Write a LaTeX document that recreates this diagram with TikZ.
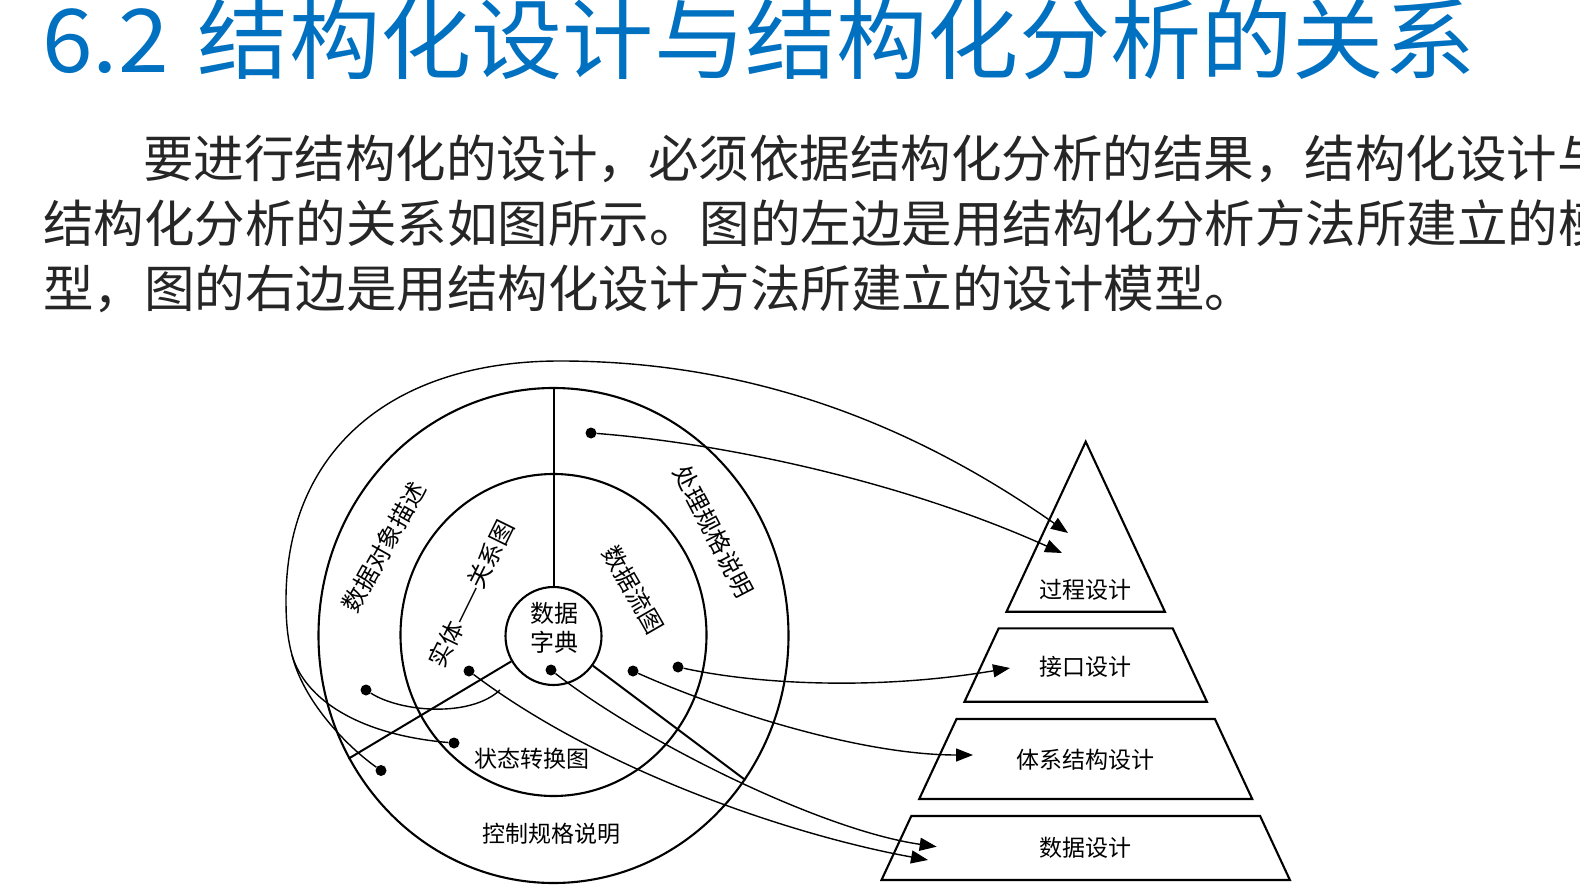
\documentclass[tikz,border=0pt]{standalone}
\usepackage{fontspec}
\newfontfamily\cjk{Noto Sans CJK SC}
\newfontfamily\cjktitle[FakeStretch=1.037]{Noto Sans CJK SC}
\usetikzlibrary{arrows.meta,shapes.geometric}
\definecolor{titleblue}{RGB}{0,112,192}
\definecolor{bodygray}{RGB}{38,38,38}

\begin{document}
\begin{tikzpicture}[x=1pt,y=-1pt,
  ring/.style={draw, ellipse, line width=2.1pt, inner sep=0pt},
  spoke/.style={line width=2pt},
  conn/.style={line width=1.4pt},
  tip/.style={conn, -{Triangle[length=17pt,width=13pt]}},
  dot/.style={circle, fill, inner sep=0pt, minimum size=11pt},
  lbl/.style={font=\cjk\fontsize{23}{23}\selectfont, inner sep=0pt},
  ringlbl/.style={font=\cjk\fontsize{24}{24}\selectfont, inner sep=0pt},
  level/.style={line width=2.1pt, line join=miter},
  para/.style={font=\cjk\fontsize{50.5}{50.5}\selectfont, text=bodygray, anchor=base west, inner sep=0pt}
]
\useasboundingbox (0,0) rectangle (1580,893);
\clip (0,0) rectangle (1580,893);
\fill[white] (0,0) rectangle (1580,893);

% heading and paragraph
\node[anchor=base west, inner sep=0pt, text=titleblue,
      font=\cjktitle\fontsize{88}{88}\selectfont] (title) at (42,73)
      {6.2\hspace{29pt}结构化设计与结构化分析的关系};
\node[para] (l1) at (143,178) {要进行结构化的设计，必须依据结构化分析的结果，结构化设计与};
\node[para] (l2) at (43,243) {结构化分析的关系如图所示。图的左边是用结构化分析方法所建立的模};
\node[para] (l3) at (43,308) {型，图的右边是用结构化设计方法所建立的设计模型。};

% analysis model: three rings and three spokes
\node[ring, minimum width=470pt, minimum height=495pt] (outer) at (553.5,635.5) {};
\node[ring, minimum width=306pt, minimum height=322pt] (middle) at (553.5,635) {};
\node[ring, minimum width=96pt, minimum height=98pt] (inner) at (553.5,636) {};
\draw[spoke] (inner.north) -- (outer.north);
\draw[spoke] (inner.211.9) -- (outer.211.9);
\draw[spoke] (inner.323.8) -- (outer.323.8);

\node[inner sep=0pt, align=center, font=\cjk\fontsize{24}{29}\selectfont] (dd) at (554,627.5) {数据\\字典};
\node[ringlbl, rotate=60.6] (objdesc) at (384,547) {数据对象描述};
\node[ringlbl, rotate=63.8] (erd) at (471,594) {实体——关系图};
\node[ringlbl, rotate=-60] (dfd) at (633,590) {数据流图};
\node[ringlbl, rotate=-62.4] (pspec) at (713.5,531.6) {处理规格说明};
\node[lbl] (std) at (532,759) {状态转换图};
\node[lbl] (cspec) at (551,834) {控制规格说明};

% design model: pyramid
\draw[level] (1085.7,441.7) -- (1164.9,611.7) -- (1006.5,611.7) -- cycle;
\draw[level] (998.7,628.3) -- (1172.7,628.3) -- (1206.9,701.7) -- (964.5,701.7) -- cycle;
\draw[level] (956.5,719) -- (1214.9,719) -- (1252.2,799) -- (919.2,799) -- cycle;
\draw[level] (911.3,816) -- (1260.1,816) -- (1289.9,880) -- (881.5,880) -- cycle;
\node[lbl] (proc) at (1085,590) {过程设计};
\node[lbl] (intf) at (1085,667) {接口设计};
\node[lbl] (arch) at (1085.7,760) {体系结构设计};
\node[lbl] (datad) at (1085,848) {数据设计};

% arrow targets and joints
\coordinate (t1) at (1068,533);
\coordinate (t2) at (1062,553);
\coordinate (t3) at (1010,668);
\coordinate (t4) at (973,755);
\coordinate (t5) at (936.7,846.7);
\coordinate (t6) at (928,860);
\coordinate (J) at (292,655);
\coordinate (E) at (500,690);

% source dots
\node[dot] (dP) at (591,433) {};
\node[dot] (dF) at (633,671) {};
\node[dot] (dG) at (678,667) {};
\node[dot] (dH) at (551,670) {};
\node[dot] (dI) at (469,671) {};
\node[dot] (dD) at (366,690) {};
\node[dot] (dA) at (454,743) {};
\node[dot] (dB) at (381,770.5) {};

% mappings
\draw[tip] (dP) .. controls (720,443) and (900,480) .. (t2);
\draw[tip] (dB) .. controls (345,745) and (303,700) .. (J)
      .. controls (288,640) and (286,625) .. (286,600)
      .. controls (286,452) and (390,361) .. (560,361)
      .. controls (760,361) and (921,430) .. (t1);
\draw[conn] (dA) .. controls (360,735) and (305,700) .. (J);
\draw[conn] (dD) .. controls (400,712) and (470,718) .. (E);
\draw[tip] (dF) .. controls (720,710) and (860,755) .. (t4);
\draw[tip] (dG) .. controls (760,685) and (880,690) .. (t3);
\draw[tip] (dH) .. controls (640,740) and (820,830) .. (t5);
\draw[tip] (dI) .. controls (600,770) and (790,835) .. (t6);
\end{tikzpicture}
\end{document}
